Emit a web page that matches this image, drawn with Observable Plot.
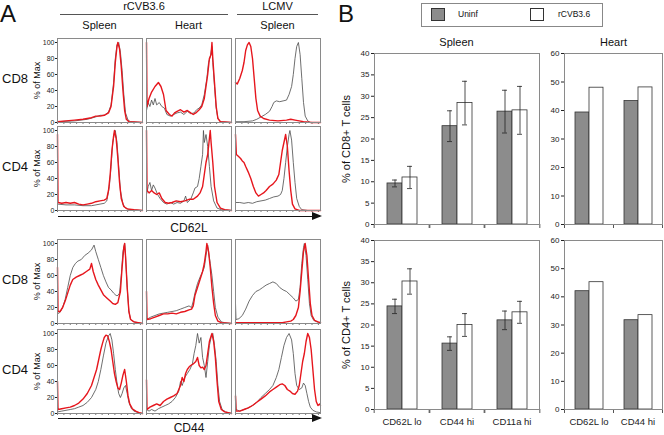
<!DOCTYPE html>
<html>
<head>
<meta charset="utf-8">
<script src="https://cdn.jsdelivr.net/npm/d3@7"></script>
<script src="https://cdn.jsdelivr.net/npm/@observablehq/plot@0.6"></script>
<style>
  body { margin: 0; background: #fff; }
  #root { position: relative; width: 664px; height: 435px; overflow: hidden; font-family: "Liberation Sans", Arial, sans-serif; color: #111; }
  .abs { position: absolute; white-space: nowrap; }
  .arrow { position: absolute; height: 0; border-top: 1.3px solid #111; }
  .arrow::after { content: ""; position: absolute; right: -2px; top: -5.3px; border-left: 10px solid #111; border-top: 4.5px solid transparent; border-bottom: 4.5px solid transparent; }
  svg.plot-abs { position: absolute; overflow: visible; }
  .sw { position: absolute; width: 14px; height: 13px; border: 1px solid #333; box-sizing: border-box; }
</style>
</head>
<body>
<div id="root"></div>
<script>
// ---------------- DATA ----------------
// Histogram traces: [position across the log axis (0-100), % of Max]
// gray = reference (uninfected), red = infected
const cd8_cd62l_spleen_gray = [[0,1],[20,2],[35,4],[45,7],[50,9],[55,9],[60,13],[63,22],[66,50],[68,80],[70,97],[72,100],[74,88],[76,65],[78,35],[80,12],[83,3],[86,1],[100,0]];
const cd8_cd62l_spleen_red = [[0,1],[10,2],[20,3],[30,4],[40,6],[45,8],[50,8],[55,9],[60,12],[63,20],[66,45],[68,75],[70,95],[71,100],[73,92],[75,70],[77,40],[79,15],[81,4],[84,1],[100,0]];
const cd8_cd62l_heart_gray = [[0,15],[2,25],[4,20],[6,28],[8,22],[10,30],[12,22],[15,25],[18,20],[21,18],[24,10],[28,8],[32,10],[36,12],[40,13],[44,10],[48,14],[52,11],[56,12],[59,16],[62,18],[65,22],[68,35],[71,55],[73,75],[75,82],[77,95],[78,75],[80,45],[82,18],[84,5],[87,1],[100,0]];
const cd8_cd62l_heart_red = [[0,100],[0.6,20],[3,30],[6,38],[10,45],[14,50],[17,45],[20,35],[23,15],[27,10],[30,8],[33,12],[36,14],[40,16],[44,13],[48,15],[52,12],[55,10],[58,12],[62,16],[65,20],[68,30],[70,45],[72,60],[74,80],[76,85],[77,100],[78,80],[80,50],[82,20],[84,5],[87,1],[100,0]];
const cd8_cd62l_lcmv_gray = [[0,1],[10,1],[20,2],[25,4],[30,7],[35,10],[40,14],[43,20],[45,25],[48,27],[52,26],[56,27],[60,28],[63,35],[66,45],[68,60],[70,80],[72,95],[74,100],[76,85],[78,55],[80,25],[82,8],[85,2],[88,0],[100,0]];
const cd8_cd62l_lcmv_red = [[0,50],[2,48],[5,55],[8,65],[10,75],[12,90],[14,97],[16,100],[18,95],[20,80],[22,55],[24,30],[26,15],[29,8],[33,5],[40,3],[50,2],[60,3],[65,4],[70,3],[75,2],[80,1],[90,0],[100,0]];

const cd4_cd62l_spleen_gray = [[0,8],[10,7],[20,7],[30,6],[40,6],[50,8],[55,9],[58,12],[61,30],[63,55],[65,85],[67,97],[68,100],[70,85],[72,55],[74,25],[77,8],[80,3],[85,1],[100,0]];
const cd4_cd62l_spleen_red = [[0,95],[0.6,10],[5,9],[10,10],[15,9],[20,10],[25,8],[30,7],[35,8],[40,9],[45,11],[50,12],[55,13],[58,15],[60,25],[62,45],[64,75],[66,93],[67,100],[69,90],[71,65],[73,35],[75,15],[78,5],[82,2],[90,1],[100,0]];
const cd4_cd62l_heart_gray = [[0,20],[2,30],[4,35],[6,25],[8,32],[10,28],[13,20],[16,15],[20,10],[24,8],[28,10],[32,8],[36,10],[40,9],[44,12],[46,18],[48,10],[52,14],[55,22],[57,28],[60,30],[62,40],[64,55],[66,70],[67,100],[68,85],[70,95],[72,80],[74,55],[76,30],[79,12],[83,3],[88,1],[100,0]];
const cd4_cd62l_heart_red = [[0,100],[0.6,25],[3,22],[6,25],[9,22],[12,20],[15,22],[18,15],[22,10],[26,9],[30,10],[35,12],[40,11],[45,12],[50,14],[55,14],[60,18],[63,22],[66,30],[68,45],[70,60],[72,70],[74,90],[75,100],[76,85],[78,60],[80,30],[83,10],[87,3],[92,1],[100,0]];
const cd4_cd62l_lcmv_gray = [[0,10],[5,10],[10,9],[15,10],[20,9],[25,11],[30,12],[35,13],[40,15],[45,17],[50,18],[53,20],[55,25],[57,40],[59,60],[61,80],[63,95],[64,100],[66,88],[68,60],[70,35],[72,15],[75,5],[78,1],[85,0],[100,0]];
const cd4_cd62l_lcmv_red = [[0,95],[1,70],[3,68],[6,65],[8,62],[10,60],[12,55],[15,48],[18,40],[21,30],[24,22],[27,18],[30,20],[33,22],[36,25],[40,30],[44,33],[48,38],[51,45],[53,60],[55,75],[57,85],[59,95],[61,80],[63,50],[65,25],[67,8],[70,2],[75,0],[100,0]];

const cd8_cd44_spleen_gray = [[0,12],[3,14],[6,20],[9,30],[12,45],[15,60],[18,70],[21,75],[24,78],[28,80],[32,85],[36,88],[40,92],[43,98],[45,90],[48,80],[51,70],[54,60],[57,52],[60,45],[63,42],[66,38],[69,35],[71,35],[73,38],[75,60],[77,90],[79,100],[80,85],[82,45],[84,15],[86,5],[90,2],[95,1],[100,0]];
const cd8_cd44_spleen_red = [[0,70],[0.6,15],[3,15],[6,20],[9,28],[12,38],[15,48],[18,55],[22,58],[26,60],[30,62],[34,65],[38,68],[40,75],[42,65],[45,55],[48,48],[51,42],[54,36],[58,32],[62,28],[65,25],[68,24],[71,26],[74,40],[76,70],[78,95],[79,100],[80,85],[82,45],[84,15],[86,5],[90,2],[95,1],[100,0]];
const cd8_cd44_heart_gray = [[0,5],[5,8],[10,10],[15,12],[20,13],[25,14],[30,15],[35,16],[40,18],[45,20],[50,22],[53,20],[55,28],[57,38],[60,50],[63,58],[66,65],[68,70],[70,85],[72,98],[73,90],[75,75],[77,60],[79,40],[81,20],[84,8],[88,2],[92,1],[100,0]];
const cd8_cd44_heart_red = [[0,40],[0.6,5],[5,6],[10,8],[15,10],[20,12],[25,12],[30,13],[35,12],[40,14],[45,15],[50,17],[53,18],[55,22],[57,35],[60,45],[63,55],[66,65],[68,75],[70,90],[71,100],[73,90],[75,70],[77,45],[79,25],[81,10],[84,3],[88,1],[100,0]];
const cd8_cd44_lcmv_gray = [[0,25],[0.6,5],[4,6],[8,10],[12,18],[16,28],[20,35],[24,40],[28,42],[32,45],[36,48],[40,50],[44,52],[48,50],[52,45],[56,42],[60,40],[64,36],[68,32],[71,28],[74,30],[76,45],[78,75],[80,95],[81,100],[83,85],[85,55],[87,25],[89,10],[92,4],[96,2],[100,1]];
const cd8_cd44_lcmv_red = [[0,1],[10,1],[20,1],[30,1],[40,1],[50,1],[55,1],[60,2],[65,3],[68,5],[71,10],[74,20],[76,40],[78,65],[80,90],[82,100],[84,85],[86,55],[88,25],[90,10],[93,4],[97,2],[100,1]];

const cd4_cd44_spleen_gray = [[0,2],[5,3],[10,4],[15,5],[20,6],[25,8],[30,10],[35,14],[40,20],[45,30],[48,40],[51,55],[54,72],[57,88],[60,97],[62,100],[64,92],[66,75],[68,55],[70,38],[72,25],[74,20],[76,25],[78,32],[80,35],[82,25],[84,14],[87,6],[90,3],[95,1],[100,0]];
const cd4_cd44_spleen_red = [[0,40],[0.6,5],[5,6],[10,7],[15,8],[20,10],[25,13],[30,18],[35,25],[40,35],[43,45],[46,55],[49,70],[51,80],[53,88],[55,95],[57,98],[59,97],[61,90],[63,80],[65,65],[67,50],[69,40],[71,32],[73,30],[75,38],[77,48],[79,55],[81,40],[83,22],[85,12],[88,6],[92,3],[96,1],[100,0]];
const cd4_cd44_heart_gray = [[0,5],[3,3],[6,5],[10,3],[14,6],[18,8],[22,10],[26,12],[30,15],[34,20],[38,28],[40,40],[42,35],[45,45],[48,50],[51,55],[54,62],[56,75],[58,85],[60,100],[62,88],[64,95],[66,70],[68,60],[70,45],[72,65],[74,85],[76,95],[78,100],[80,85],[82,65],[84,35],[86,15],[89,5],[93,2],[100,0]];
const cd4_cd44_heart_red = [[0,42],[0.6,5],[4,8],[8,10],[12,12],[16,10],[20,15],[24,18],[28,20],[32,22],[36,25],[40,35],[42,45],[44,40],[46,50],[48,55],[50,58],[52,60],[55,62],[58,65],[60,70],[62,60],[64,57],[66,58],[68,55],[70,60],[72,75],[74,90],[76,97],[77,100],[79,90],[81,70],[83,40],[85,15],[88,5],[92,2],[100,0]];
const cd4_cd44_lcmv_gray = [[0,25],[0.6,5],[5,3],[10,5],[15,7],[20,10],[25,14],[30,20],[35,25],[40,30],[44,35],[48,45],[51,55],[54,70],[57,85],[60,95],[63,100],[66,92],[68,75],[70,50],[72,35],[75,30],[78,32],[80,38],[82,35],[84,25],[86,15],[88,8],[91,4],[95,2],[100,1]];
const cd4_cd44_lcmv_red = [[0,22],[0.6,3],[5,3],[10,5],[15,7],[20,10],[25,14],[30,18],[35,22],[40,27],[44,30],[48,33],[52,36],[55,37],[58,35],[61,30],[64,28],[67,25],[70,24],[73,28],[75,35],[77,50],[79,65],[81,75],[83,90],[85,100],[87,95],[89,80],[91,55],[93,30],[95,15],[97,10],[99,12],[100,10]];

const histYTicks = [0, 20, 40, 60, 80, 100];
const histRowLabels = ["CD8", "CD4", "CD8", "CD4"];
const histColTitles = ["Spleen", "Heart", "Spleen"];
const histGroupTitles = ["rCVB3.6", "LCMV"];
const histMarkers = ["CD62L", "CD44"];

// Bar charts (panel B)
const seriesNames = ["Uninf", "rCVB3.6"];
const spleenCategories = ["CD62L lo", "CD44 hi", "CD11a hi"];
const heartCategories = ["CD62L lo", "CD44 hi"];

const cd8SpleenUninf = [9.6, 23.0, 26.4];
const cd8SpleenUninfErr = [0.8, 3.6, 5.0];
const cd8SpleenInf = [11.0, 28.4, 26.7];
const cd8SpleenInfErr = [2.6, 5.1, 5.6];
const cd8HeartUninf = [39.3, 43.3];
const cd8HeartInf = [48.0, 48.1];

const cd4SpleenUninf = [24.4, 15.6, 21.1];
const cd4SpleenUninfErr = [1.7, 1.6, 2.2];
const cd4SpleenInf = [30.3, 20.0, 23.0];
const cd4SpleenInfErr = [3.0, 2.7, 2.6];
const cd4HeartUninf = [42.0, 31.7];
const cd4HeartInf = [45.2, 33.5];

const spleenYTicks = [0, 5, 10, 15, 20, 25, 30, 35, 40];
const heartYTicks = [0, 10, 20, 30, 40, 50, 60];

// ---------------- STYLE ----------------
const FONT = '"Liberation Sans", Arial, sans-serif';
const RED = "#e6161d";
const GRAYLINE = "#4a4a4a";
const BARGRAY = "#8c8c8c";
const FRAME = "#8a8a8a";

const root = document.getElementById("root");
function addDiv(text, css, parent = root) {
  const d = document.createElement("div");
  d.className = "abs";
  d.textContent = text;
  Object.assign(d.style, css);
  parent.appendChild(d);
  return d;
}
function place(svg, left, top) {
  svg.classList.add("plot-abs");
  svg.style.left = left + "px";
  svg.style.top = top + "px";
  root.appendChild(svg);
}

// ---------------- PANEL A ----------------
const colLeft = [57, 146, 235];
const rowTop = [38, 126, 239, 329];
const boxW = 85, boxH = 84;

const histPanels = [
  [[cd8_cd62l_spleen_gray, cd8_cd62l_spleen_red], [cd8_cd62l_heart_gray, cd8_cd62l_heart_red], [cd8_cd62l_lcmv_gray, cd8_cd62l_lcmv_red]],
  [[cd4_cd62l_spleen_gray, cd4_cd62l_spleen_red], [cd4_cd62l_heart_gray, cd4_cd62l_heart_red], [cd4_cd62l_lcmv_gray, cd4_cd62l_lcmv_red]],
  [[cd8_cd44_spleen_gray, cd8_cd44_spleen_red], [cd8_cd44_heart_gray, cd8_cd44_heart_red], [cd8_cd44_lcmv_gray, cd8_cd44_lcmv_red]],
  [[cd4_cd44_spleen_gray, cd4_cd44_spleen_red], [cd4_cd44_heart_gray, cd4_cd44_heart_red], [cd4_cd44_lcmv_gray, cd4_cd44_lcmv_red]]
];

histPanels.forEach((row, r) => {
  row.forEach(([gray, red], c) => {
    const first = c === 0;
    const mL = first ? 34 : 1;
    const svg = Plot.plot({
      width: boxW + mL + 1,
      height: boxH + 5,
      marginLeft: mL, marginRight: 1, marginTop: 1, marginBottom: 4,
      x: {domain: [0, 100], axis: null},
      y: {domain: [0, 105], axis: null},
      style: {background: "transparent", fontFamily: FONT, overflow: "visible", color: "#222"},
      marks: [
        Plot.axisX({ticks: d3.range(0, 101, 7.5), tickSize: 2, tickFormat: () => "", stroke: "#777"}),
        first ? Plot.axisY({ticks: histYTicks, tickSize: 2, tickPadding: 1, fontSize: 7, label: null}) : null,
        first ? Plot.text(["% of Max"], {frameAnchor: "left", textAnchor: "middle", rotate: -90, dx: -20, fontSize: 9, fill: "#111"}) : null,
        Plot.line(gray, {x: d => d[0], y: d => d[1], stroke: GRAYLINE, strokeWidth: 0.8}),
        Plot.line(red, {x: d => d[0], y: d => d[1], stroke: RED, strokeWidth: 1.4}),
        Plot.frame({stroke: FRAME})
      ]
    });
    place(svg, colLeft[c] - mL, rowTop[r] - 1);
  });
  addDiv(histRowLabels[r], {left: "2px", top: (rowTop[r] + boxH / 2 - 9) + "px", fontSize: "13px"});
});

addDiv("A", {left: "0px", top: "0px", fontSize: "24px"});
addDiv(histGroupTitles[0], {left: "60px", top: "0px", width: "168px", height: "14px", fontSize: "11px", lineHeight: "13px", borderBottom: "1px solid #555", textAlign: "center"});
addDiv(histGroupTitles[1], {left: "237px", top: "0px", width: "81px", height: "14px", fontSize: "11px", lineHeight: "13px", borderBottom: "1px solid #555", textAlign: "center"});
histColTitles.forEach((t, c) => addDiv(t, {left: colLeft[c] + "px", width: boxW + "px", top: "19px", fontSize: "11px", textAlign: "center"}));

const arrow1 = document.createElement("div"); arrow1.className = "arrow";
Object.assign(arrow1.style, {left: "58px", top: "216px", width: "262px"}); root.appendChild(arrow1);
const arrow2 = document.createElement("div"); arrow2.className = "arrow";
Object.assign(arrow2.style, {left: "58px", top: "418px", width: "262px"}); root.appendChild(arrow2);
addDiv(histMarkers[0], {left: "58px", width: "262px", top: "221px", fontSize: "12px", textAlign: "center"});
addDiv(histMarkers[1], {left: "58px", width: "262px", top: "421px", fontSize: "12px", textAlign: "center"});

// ---------------- PANEL B ----------------
addDiv("B", {left: "338px", top: "0px", fontSize: "24px"});
const legend = addDiv("", {left: "421px", top: "3px", width: "182px", height: "24px", border: "1px solid #888", boxSizing: "border-box"});
const sw1 = document.createElement("div"); sw1.className = "sw"; Object.assign(sw1.style, {left: "9px", top: "4px", background: BARGRAY}); legend.appendChild(sw1);
const sw2 = document.createElement("div"); sw2.className = "sw"; Object.assign(sw2.style, {left: "108px", top: "4px", background: "#fff"}); legend.appendChild(sw2);
addDiv(seriesNames[0], {left: "36px", top: "5px", fontSize: "8.5px"}, legend);
addDiv(seriesNames[1], {left: "136px", top: "5px", fontSize: "8.5px"}, legend);

function barChart({cats, uninf, inf, uninfErr, infErr, yTicks, yLabel, showX, left, top, w, h, mL, pad}) {
  const rows = [];
  cats.forEach((c, i) => {
    rows.push({cat: c, series: seriesNames[0], v: uninf[i], e: uninfErr ? uninfErr[i] : null});
    rows.push({cat: c, series: seriesNames[1], v: inf[i], e: infErr ? infErr[i] : null});
  });
  const err = rows.filter(d => d.e != null);
  const mB = showX ? 20 : 6;
  const yMax = yTicks[yTicks.length - 1];
  const bw = w / cats.length;
  const svg = Plot.plot({
    width: w + mL + 2, height: h + 2 + mB,
    marginLeft: mL, marginRight: 2, marginTop: 2, marginBottom: mB,
    fx: {domain: cats, padding: 0, axis: null},
    x: {domain: seriesNames, paddingInner: 0, paddingOuter: pad, axis: null},
    y: {domain: [0, yMax], axis: null},
    style: {background: "transparent", fontFamily: FONT, overflow: "visible", color: "#222"},
    marks: [
      Plot.axisY({ticks: yTicks, tickSize: 3, tickPadding: 2, fontSize: 8, label: null}),
      Plot.axisFx({anchor: "bottom", tickSize: 4, tickFormat: () => "", dx: -bw / 2, label: null, stroke: "#555"}),
      Plot.axisFx({anchor: "bottom", tickSize: 4, tickFormat: () => "", dx: bw / 2, label: null, stroke: "#555"}),
      showX ? Plot.axisFx({anchor: "bottom", tickSize: 0, tickPadding: 9, fontSize: 9.5, label: null}) : null,
      yLabel ? Plot.text([yLabel], {frameAnchor: "left", textAnchor: "middle", facetAnchor: "left", rotate: -90, dx: -28, fontSize: 11, fill: "#111"}) : null,
      Plot.barY(rows, {fx: "cat", x: "series", y: "v", fill: d => d.series === seriesNames[0] ? BARGRAY : "#fff", stroke: "#333", strokeWidth: 0.8}),
      Plot.ruleX(err, {fx: "cat", x: "series", y1: d => d.v - d.e, y2: d => d.v + d.e, stroke: "#222", strokeWidth: 0.8}),
      Plot.tickY(err, {fx: "cat", x: "series", y: d => d.v - d.e, stroke: "#222", strokeWidth: 0.8, insetLeft: 5, insetRight: 5}),
      Plot.tickY(err, {fx: "cat", x: "series", y: d => d.v + d.e, stroke: "#222", strokeWidth: 0.8, insetLeft: 5, insetRight: 5}),
      Plot.frame({facet: "super", stroke: FRAME})
    ]
  });
  place(svg, left - mL, top - 2);
}

barChart({cats: spleenCategories, uninf: cd8SpleenUninf, inf: cd8SpleenInf, uninfErr: cd8SpleenUninfErr, infErr: cd8SpleenInfErr,
  yTicks: spleenYTicks, yLabel: "% of CD8+ T cells", showX: false, left: 373, top: 53, w: 167, h: 171, mL: 36, pad: 0.74});
barChart({cats: heartCategories, uninf: cd8HeartUninf, inf: cd8HeartInf,
  yTicks: heartYTicks, yLabel: null, showX: false, left: 564, top: 53, w: 98, h: 171, mL: 24, pad: 0.65});
barChart({cats: spleenCategories, uninf: cd4SpleenUninf, inf: cd4SpleenInf, uninfErr: cd4SpleenUninfErr, infErr: cd4SpleenInfErr,
  yTicks: spleenYTicks, yLabel: "% of CD4+ T cells", showX: true, left: 373, top: 240, w: 167, h: 169, mL: 36, pad: 0.74});
barChart({cats: heartCategories, uninf: cd4HeartUninf, inf: cd4HeartInf,
  yTicks: heartYTicks, yLabel: null, showX: true, left: 564, top: 240, w: 98, h: 169, mL: 24, pad: 0.65});

addDiv("Spleen", {left: "373px", width: "167px", top: "36px", fontSize: "11px", textAlign: "center"});
addDiv("Heart", {left: "564px", width: "99px", top: "36px", fontSize: "11px", textAlign: "center"});
</script>
</body>
</html>
